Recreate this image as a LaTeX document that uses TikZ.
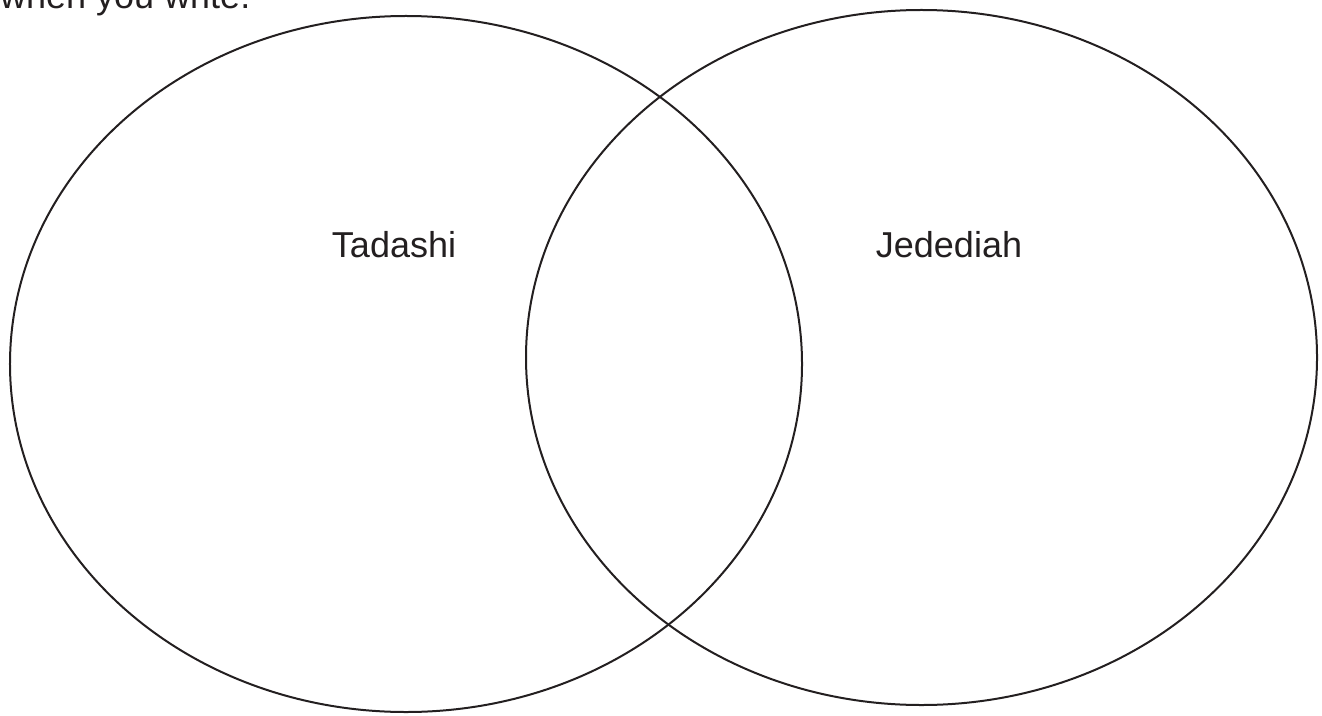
\documentclass[tikz,border=0pt]{standalone}
\usepackage{fontspec}
\setmainfont{Liberation Sans}
\usetikzlibrary{shapes.geometric}
\definecolor{ink}{HTML}{231F20}
\tikzset{
  setcircle/.style={draw=ink, line width=2bp, ellipse, inner sep=0pt},
  lbl/.style={text=ink, inner sep=0pt, font=\fontsize{36bp}{43bp}\selectfont},
}
\begin{document}
\begin{tikzpicture}[x=1bp,y=-1bp]
\useasboundingbox (0,0) rectangle (1322,715);
\node[setcircle, minimum width=792bp, minimum height=696bp] (L) at (406,364) {};
\node[setcircle, minimum width=791bp, minimum height=695bp] (R) at (921.5,357.5) {};
\node[lbl, anchor=base] (tadashi) at (394,257) {Tadashi};
\node[lbl, anchor=base] (jedediah) at (949,257) {Jedediah};
\node[lbl, anchor=base west] (top) at (0,9) {when you write.};
\end{tikzpicture}
\end{document}
